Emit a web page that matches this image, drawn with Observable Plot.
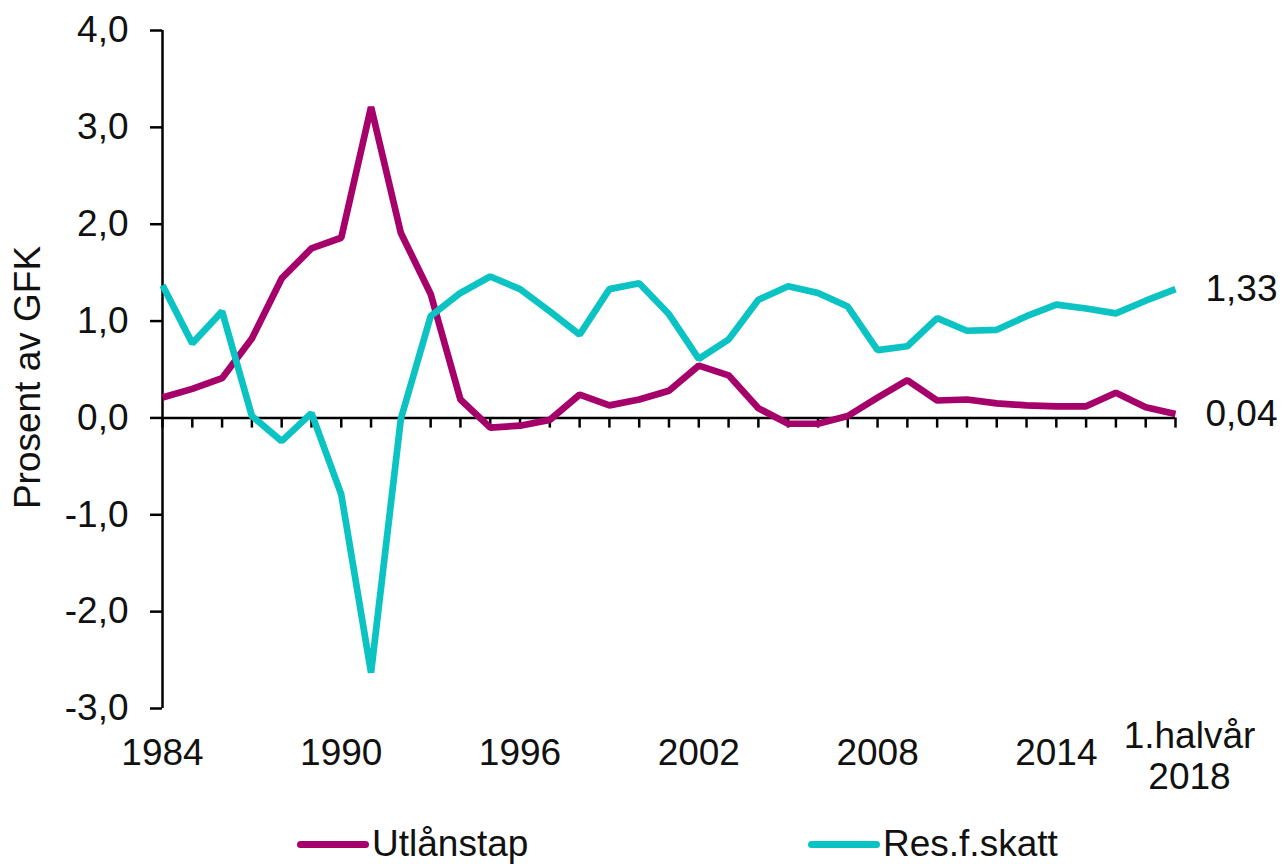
<!DOCTYPE html>
<html>
<head>
<meta charset="utf-8">
<script src="https://cdn.jsdelivr.net/npm/d3@7"></script>
<script src="https://cdn.jsdelivr.net/npm/@observablehq/plot@0.6"></script>
<style>
  html, body { margin: 0; padding: 0; background: #fff; }
  #wrap { position: relative; width: 1283px; height: 864px; font-family: "Liberation Sans", Arial, sans-serif; color: #111; }
  .leg { position: absolute; top: 825px; height: 38px; line-height: 38px; display: flex; align-items: center; font-size: 37px; }
  .sw { width: 72px; height: 7px; border-radius: 4px; margin-right: 3px; }
</style>
</head>
<body>
<div id="wrap">
  <div id="chart"></div>
  <div id="legend"></div>
</div>
<script>
const years = [1984,1985,1986,1987,1988,1989,1990,1991,1992,1993,1994,1995,1996,1997,1998,1999,2000,2001,2002,2003,2004,2005,2006,2007,2008,2009,2010,2011,2012,2013,2014,2015,2016,2017,2018];
const utlanstap = [0.21,0.30,0.41,0.82,1.44,1.75,1.86,3.21,1.91,1.28,0.19,-0.10,-0.08,-0.02,0.24,0.13,0.19,0.28,0.54,0.44,0.10,-0.06,-0.06,0.02,0.21,0.39,0.18,0.19,0.15,0.13,0.12,0.12,0.26,0.11,0.04];
const resfskatt = [1.37,0.77,1.10,0.02,-0.24,0.05,-0.79,-2.63,-0.01,1.05,1.29,1.46,1.33,1.10,0.86,1.33,1.39,1.07,0.61,0.81,1.22,1.36,1.29,1.15,0.70,0.74,1.03,0.90,0.91,1.05,1.17,1.13,1.08,1.21,1.33];
const seriesNames = ["Utlånstap", "Res.f.skatt"];
const seriesColors = ["#a6006b", "#0bc3c3"];
const yTicks = [-3,-2,-1,0,1,2,3,4];
const labelYears = [1984,1990,1996,2002,2008,2014];
const lastLabel = "1.halvår\n2018";
const yTitle = "Prosent av GFK";

const comma = (v, n) => v.toFixed(n).replace(".", ",");
const s1 = years.map((x, i) => ({x, y: utlanstap[i]}));
const s2 = years.map((x, i) => ({x, y: resfskatt[i]}));
const ends = [
  {x: years[years.length-1], y: resfskatt[resfskatt.length-1], t: comma(resfskatt[resfskatt.length-1], 2)},
  {x: years[years.length-1], y: utlanstap[utlanstap.length-1], t: comma(utlanstap[utlanstap.length-1], 2)}
];

const FS = 37;
const chart = Plot.plot({
  width: 1283,
  height: 800,
  marginLeft: 162,
  marginRight: 108,
  marginTop: 30,
  marginBottom: 92,
  style: {fontFamily: "'Liberation Sans', Arial, sans-serif", fontSize: FS + "px", color: "#111", background: "#fff", overflow: "visible"},
  x: {type: "linear", domain: [1984, 2018], axis: null},
  y: {domain: [-3, 4], axis: null},
  marks: [
    Plot.axisY({ticks: yTicks, tickFormat: d => comma(d, 1), tickSize: 12, tickPadding: 22, strokeWidth: 2.5, stroke: "#000", fontSize: FS, fill: "#111", label: null}),
    Plot.ruleX([1984], {stroke: "#000", strokeWidth: 2.5}),
    Plot.ruleY([0], {stroke: "#000", strokeWidth: 2.5}),
    Plot.ruleX(years, {x: d => d, y1: 0, y2: -0.105, stroke: "#000", strokeWidth: 2.5}),
    Plot.line(s1, {x: "x", y: "y", stroke: seriesColors[0], strokeWidth: 6.7, strokeLinecap: "butt", strokeLinejoin: "miter"}),
    Plot.line(s2, {x: "x", y: "y", stroke: seriesColors[1], strokeWidth: 6.7, strokeLinecap: "butt", strokeLinejoin: "miter"}),
    Plot.text(labelYears, {x: d => d, frameAnchor: "bottom", dy: 45, text: d => String(d), lineAnchor: "middle", fontSize: FS, fill: "#111"}),
    Plot.text([lastLabel], {x: years[years.length-1], frameAnchor: "bottom", dy: 47, dx: 14, text: d => d, lineAnchor: "middle", lineHeight: 1.1, fontSize: FS, fill: "#111"}),
    Plot.text(ends, {x: "x", y: "y", text: "t", textAnchor: "start", dx: 30, fontSize: FS, fill: "#111"}),
    Plot.text([yTitle], {frameAnchor: "left", textAnchor: "middle", rotate: -90, dx: -134, dy: 8, text: d => d, fontSize: FS, fill: "#111"})
  ]
});
document.getElementById("chart").appendChild(chart);

const legend = document.getElementById("legend");
const legendLeft = [297, 808];
seriesNames.forEach((name, i) => {
  const item = document.createElement("div");
  item.className = "leg";
  item.style.left = legendLeft[i] + "px";
  const sw = document.createElement("div");
  sw.className = "sw";
  sw.style.background = seriesColors[i];
  const tx = document.createElement("span");
  tx.textContent = name;
  item.appendChild(sw);
  item.appendChild(tx);
  legend.appendChild(item);
});
</script>
</body>
</html>
